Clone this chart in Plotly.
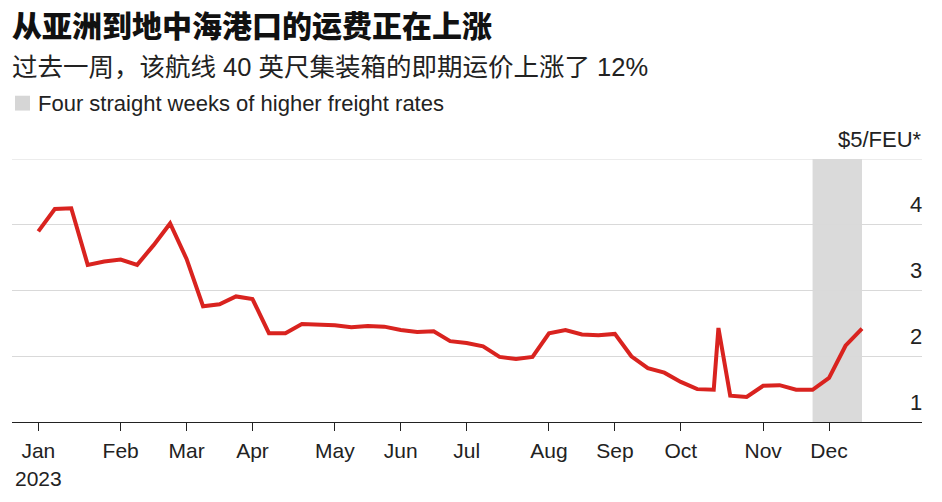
import plotly.graph_objects as go

# ---- data ----
dates = [
    "2023-01-01", "2023-01-08", "2023-01-15", "2023-01-22", "2023-01-29",
    "2023-02-05", "2023-02-12", "2023-02-19", "2023-02-26",
    "2023-03-05", "2023-03-12", "2023-03-19", "2023-03-26",
    "2023-04-02", "2023-04-09", "2023-04-16", "2023-04-23", "2023-04-30",
    "2023-05-07", "2023-05-14", "2023-05-21", "2023-05-28",
    "2023-06-04", "2023-06-11", "2023-06-18", "2023-06-25",
    "2023-07-02", "2023-07-09", "2023-07-16", "2023-07-23", "2023-07-30",
    "2023-08-06", "2023-08-13", "2023-08-20", "2023-08-27",
    "2023-09-03", "2023-09-10", "2023-09-17", "2023-09-24",
    "2023-10-01", "2023-10-08", "2023-10-15", "2023-10-17", "2023-10-22", "2023-10-29",
    "2023-11-05", "2023-11-12", "2023-11-19", "2023-11-26",
    "2023-12-03", "2023-12-10", "2023-12-17",
]
rates = [
    3.90, 4.24, 4.25, 3.39, 3.44,
    3.47, 3.39, 3.69, 4.02,
    3.48, 2.76, 2.79, 2.91,
    2.87, 2.35, 2.35, 2.49, 2.48,
    2.47, 2.44, 2.46, 2.45,
    2.40, 2.37, 2.38, 2.23,
    2.20, 2.15, 1.99, 1.96, 1.99,
    2.35, 2.40, 2.33, 2.32,
    2.34, 2.00, 1.82, 1.75,
    1.61, 1.50, 1.49, 2.43, 1.40, 1.38,
    1.55, 1.56, 1.49, 1.49,
    1.67, 2.16, 2.42,
]
x_tick_vals = ["2023-01-01", "2023-02-05", "2023-03-05", "2023-04-02", "2023-05-07",
               "2023-06-04", "2023-07-02", "2023-08-06", "2023-09-03", "2023-10-01",
               "2023-11-05", "2023-12-03"]
x_tick_text = ["Jan<br>2023", "Feb", "Mar", "Apr", "May", "Jun", "Jul", "Aug",
               "Sep", "Oct", "Nov", "Dec"]
y_tick_vals = [1, 2, 3, 4, 5]
y_tick_text = ["1", "2", "3", "4", "$5/FEU*"]
shade_start = "2023-11-26"
shade_end = "2023-12-17"

title_text = "从亚洲到地中海港口的运费正在上涨"
subtitle_text = "过去一周，该航线 40 英尺集装箱的即期运价上涨了 12%"
legend_text = "Four straight weeks of higher freight rates"

# ---- layout geometry (pixels) ----
W, H = 942, 502
ML, MR, MT, MB = 12, 20, 159, 77
PW = W - ML - MR
PH = H - MT - MB


def px_x(p):
    return (p - ML) / PW


def px_y(p):
    return (H - MB - p) / PH


LATIN = "Liberation Sans, Arial, Noto Sans CJK SC, sans-serif"
CJK = "Noto Sans CJK SC, Liberation Sans, sans-serif"
GRID = "#d9d9d9"

fig = go.Figure()
fig.add_trace(go.Scatter(
    x=dates, y=rates, mode="lines",
    line=dict(color="#d9231f", width=4),
    hoverinfo="skip", showlegend=False,
))

shapes = [
    dict(type="rect", xref="x", yref="paper", x0=shade_start, x1=shade_end,
         y0=0, y1=1, fillcolor="#dadada", line=dict(width=0), layer="below"),
    dict(type="line", xref="paper", yref="y", x0=0, x1=1,
         y0=y_tick_vals[-1], y1=y_tick_vals[-1],
         line=dict(color=GRID, width=1), layer="below"),
    dict(type="rect", xref="paper", yref="paper",
         x0=px_x(15), x1=px_x(30), y0=px_y(110), y1=px_y(95),
         fillcolor="#d6d6d6", line=dict(width=0)),
]

annotations = [
    dict(text=title_text, xref="paper", yref="paper",
         x=px_x(10), y=px_y(22), xanchor="left", yanchor="middle",
         showarrow=False, font=dict(family=CJK, size=30, color="#111111", weight=900)),
    dict(text=subtitle_text, xref="paper", yref="paper",
         x=px_x(10), y=px_y(66), xanchor="left", yanchor="middle",
         showarrow=False, font=dict(family=LATIN, size=25.5, color="#222222")),
    dict(text=legend_text, xref="paper", yref="paper",
         x=px_x(36), y=px_y(103), xanchor="left", yanchor="middle",
         showarrow=False, font=dict(family=LATIN, size=22, color="#222222")),
]
for v, t in zip(y_tick_vals, y_tick_text):
    annotations.append(dict(
        text=t, xref="paper", yref="y", x=1, y=v, xanchor="right",
        yanchor="middle", yshift=20, xshift=2, showarrow=False,
        font=dict(family=LATIN, size=22, color="#222222")))

fig.update_layout(
    width=W, height=H,
    margin=dict(l=ML, r=MR, t=MT, b=MB, pad=0),
    paper_bgcolor="white", plot_bgcolor="white",
    shapes=shapes, annotations=annotations,
    xaxis=dict(
        type="date", range=["2022-12-20 19:40", "2024-01-11 12:00"],
        tickmode="array", tickvals=x_tick_vals, ticktext=x_tick_text,
        ticks="outside", ticklen=8, tickwidth=1, tickcolor="#222222",
        ticklabelstandoff=2,
        showline=True, linecolor="#222222", linewidth=1,
        showgrid=False, zeroline=False,
        tickfont=dict(family=LATIN, size=21, color="#222222"),
    ),
    yaxis=dict(
        range=[1, 5], tickmode="array", tickvals=y_tick_vals,
        showticklabels=False, showgrid=True, gridcolor=GRID, gridwidth=1,
        zeroline=False, showline=False,
    ),
)

fig.write_html("out.html", config={"displayModeBar": False},
               post_script="document.body.style.margin='0';")
